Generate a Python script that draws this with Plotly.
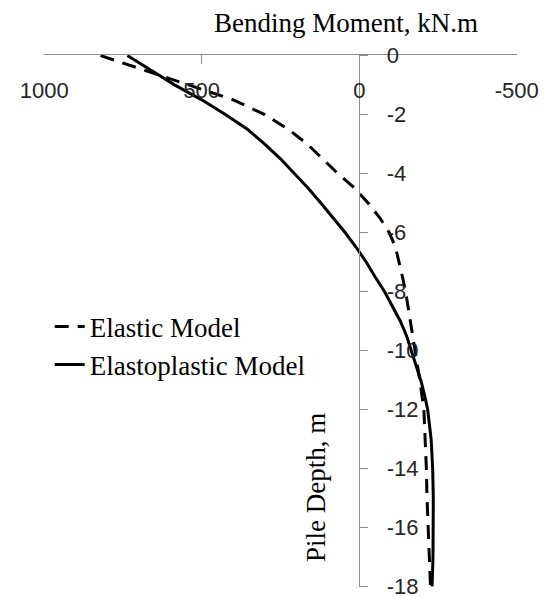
import plotly.graph_objects as go

# Depths (m) and bending moments (kN.m)
depth_elastic = [0, -0.5, -1, -1.5, -2, -2.5, -3, -3.5, -4, -4.5, -5, -5.5, -6, -6.5, -7, -7.5,
                 -8, -9, -10, -11, -12, -13, -14, -15, -16, -17, -18]
moment_elastic = [821, 680, 545, 400, 300, 225, 165, 115, 68, 14, -28, -65, -95, -115, -127, -137,
                  -147, -162, -178, -192, -205, -210, -213, -215, -218, -221, -226]

depth_plastic = [0, -0.5, -1, -1.5, -2, -2.5, -3, -3.5, -4, -4.5, -5, -5.5, -6, -6.5, -7, -7.5,
                 -8, -8.5, -9, -9.5, -10, -10.5, -11, -11.5, -12, -13, -14, -15, -16, -17, -18]
moment_plastic = [736, 660, 585, 500, 425, 355, 300, 250, 205, 162, 122, 82, 45, 10, -22, -50,
                  -80, -105, -130, -150, -165, -180, -195, -207, -217, -228, -233, -235, -235, -234, -231]

x_ticks = [1000, 500, 0, -500]
y_ticks = [0, -2, -4, -6, -8, -10, -12, -14, -16, -18]

axis_grey = "#8c8c8c"
tick_font = dict(family="Liberation Sans", size=22, color="#262626")
serif = "Liberation Serif"

fig = go.Figure()
fig.add_trace(go.Scatter(
    x=moment_elastic, y=depth_elastic, mode="lines", name="Elastic Model",
    line=dict(color="black", width=3, dash="14px,9px"), legendgroup="a"))
fig.add_trace(go.Scatter(
    x=moment_plastic, y=depth_plastic, mode="lines", name="Elastoplastic Model",
    line=dict(color="black", width=3), legendgroup="b"))

fig.update_layout(
    width=545, height=597,
    margin=dict(l=44, r=28, t=55, b=10),
    paper_bgcolor="white", plot_bgcolor="white",
    showlegend=True,
    legend=dict(x=0.012, y=0.535, xanchor="left", yanchor="top",
                font=dict(family=serif, size=27, color="black"),
                traceorder="grouped", tracegroupgap=0,
                bgcolor="rgba(0,0,0,0)"),
    xaxis=dict(range=[1000.6, -500.6], side="top", tickvals=x_ticks,
               ticktext=[str(v) for v in x_ticks],
               ticks="inside", ticklen=9, tickcolor=axis_grey,
               ticklabelposition="inside", ticklabelstandoff=20,
               ticklabeloverflow="allow", automargin=False,
               showline=True, linecolor=axis_grey, linewidth=1,
               showgrid=False, zeroline=False, tickfont=tick_font),
    yaxis=dict(range=[-18.02, 0.02], anchor="free", position=2/3, side="right",
               tickvals=y_ticks, ticktext=[str(v) for v in y_ticks],
               ticks="outside", ticklen=8, tickcolor=axis_grey,
               ticklabelstandoff=14, ticklabeloverflow="allow", automargin=False,
               showline=True, linecolor=axis_grey, linewidth=1,
               showgrid=False, zeroline=False, tickfont=tick_font),
    annotations=[
        dict(text="Bending Moment, kN.m", xref="paper", yref="paper",
             x=0.638, y=1.06, xanchor="center", yanchor="middle", showarrow=False,
             font=dict(family=serif, size=27, color="black")),
        dict(text="Pile Depth, m", xref="paper", yref="paper",
             x=0.575, y=0.188, xanchor="center", yanchor="middle", showarrow=False,
             textangle=-90, font=dict(family=serif, size=27, color="black")),
    ],
)

fig.write_html("out.html")
